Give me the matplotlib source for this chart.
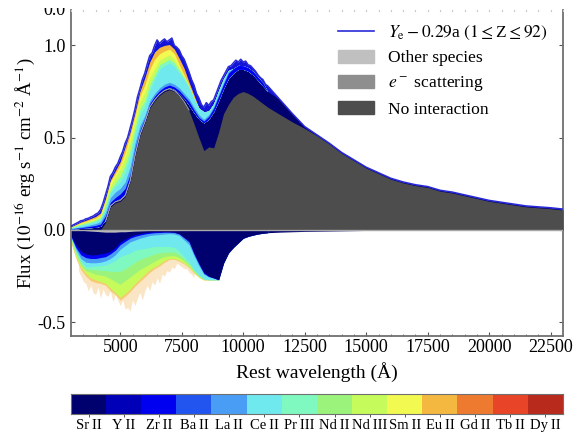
import numpy as np
import matplotlib
matplotlib.use('Agg')
import matplotlib.pyplot as plt
from matplotlib.colors import ListedColormap
from matplotlib.patches import Patch, Rectangle
from matplotlib.lines import Line2D

plt.rcParams['font.family'] = ['Liberation Serif', 'DejaVu Serif']
plt.rcParams['mathtext.fontset'] = 'stix'
plt.rcParams['axes.unicode_minus'] = False

species = ['Sr\u2009II', 'Y\u2009II', 'Zr\u2009II', 'Ba\u2009II', 'La\u2009II', 'Ce\u2009II', 'Pr\u2009III',
           'Nd\u2009II', 'Nd\u2009III', 'Sm\u2009II', 'Eu\u2009II', 'Gd\u2009II', 'Tb\u2009II', 'Dy\u2009II']
colors = ['#00006e', '#0000b8', '#0000f0', '#2255f0', '#4a9df5', '#6fe8ee', '#80f9c0',
          '#9cf37c', '#c6fb5c', '#f2f950', '#f4b840', '#ee7a30', '#e84428', '#b82a1c']

# wavelength grid for the blue/IR bump, step 200 A
wave = [3000, 3200, 3400, 3600, 3800, 4000, 4200, 4400, 4600, 4800, 5000, 5200, 5400, 5600,
        5800, 6000, 6200, 6400, 6600, 6800, 7000, 7200, 7400, 7600, 7800, 8000, 8200, 8400,
        8600, 8800, 9000, 9200, 9400, 9600, 9800, 10000, 10200, 10400, 10600, 10800, 11000]
wave_tail = [11500, 12000, 12500, 13000, 13500, 14000, 14500, 15000, 15500, 16000, 16500, 17000,
             17500, 18000, 18500, 19000, 19500, 20000, 20500, 21000, 21500, 22000, 22500, 23000]

# emission side, upper edge of each stacked layer
no_interaction = [0, 0, 0, 0, 0, 0, 0, .04, .125, .147, .155, .18, .26, .40, .51, .58, .66, .70, .73, .75,
                  .76, .75, .725, .69, .645, .575, .50, .43, .45, .445, .53, .63, .68, .72, .74, .75,
                  .74, .725, .705, .685, .665]
top_sr = [.004, .006, .008, .01, .012, .014, .02, .055, .135, .158, .17, .195, .275, .415, .525, .592, .672, .712,
          .742, .762, .772, .762, .74, .712, .675, .635, .60, .58, .60, .64, .70, .765, .82, .85, .87, .87,
          .86, .84, .81, .78, .75]
top_zr = [.006, .009, .012, .016, .02, .024, .032, .075, .15, .175, .195, .225, .30, .44, .54, .605, .685, .725,
          .755, .775, .785, .775, .755, .725, .695, .65, .61, .59, .615, .66, .725, .79, .85, .875, .892, .89,
          .88, .86, .828, .798, .75]
top_la = [.008, .012, .017, .022, .028, .034, .045, .095, .175, .205, .225, .26, .34, .47, .565, .62, .70, .74,
          .77, .79, .80, .79, .77, .74, .71, .665, .625, .60, .625, .67, .735, .80, .86, .875, .892, .89,
          .88, .86, .828, .798, .75]
top_ce = [.011, .018, .025, .03, .037, .045, .058, .115, .20, .235, .26, .31, .395, .52, .62, .67, .755, .815,
          .87, .89, .905, .885, .85, .815, .77, .71, .66, .64, .645, .685, .755, .82, .865, .875, .892, .89,
          .88, .86, .828, .798, .75]
top_pr = [.013, .021, .03, .036, .043, .052, .066, .13, .215, .255, .29, .35, .43, .55, .655, .70, .785, .84,
          .895, .91, .925, .905, .865, .825, .775, .712, .66, .64, .645, .685, .755, .82, .865, .875, .892, .89,
          .88, .86, .828, .798, .75]
top_nd = [.015, .024, .034, .042, .05, .058, .075, .15, .24, .285, .33, .395, .48, .59, .695, .745, .825, .875,
          .92, .935, .95, .925, .875, .83, .778, .714, .66, .64, .645, .685, .755, .82, .865, .875, .892, .89,
          .88, .86, .828, .798, .75]
top_sm = [.016, .027, .038, .046, .055, .064, .082, .16, .26, .305, .35, .42, .51, .615, .725, .785, .87, .925,
          .955, .97, .98, .955, .895, .84, .782, .717, .66, .64, .645, .685, .755, .82, .865, .875, .892, .89,
          .88, .86, .828, .798, .75]
top_eu = [.017, .03, .043, .052, .062, .073, .092, .17, .27, .32, .37, .45, .53, .635, .75, .825, .91, .965,
          .99, 1.0, 1.005, .98, .93, .875, .80, .73, .66, .64, .645, .685, .755, .82, .865, .875, .892, .89,
          .88, .86, .828, .798, .75]
# model spectrum drawn on a finer grid, step 100 A
wave_fine = np.arange(3000, 11100, 100)
model = [.02, .028, .035, .042, .05, .052, .06, .063, .07, .075, .085, .092, .11, .145, .19, .235, .29, .31, .34, .36,
         .395, .425, .47, .50, .55, .60, .655, .72, .765, .815, .85, .90, .945, .96, 1.0, 1.03, 1.01, 1.025, 1.035, 1.02,
         1.03, 1.04, 1.0, .99, .975, .945, .925, .89, .855, .815, .785, .74, .715, .68, .665, .69, .675, .695, .705, .74,
         .775, .81, .835, .86, .885, .89, .905, .92, .91, .925, .91, .915, .895, .89, .875, .86, .84, .825, .815, .79, .78]
no_interaction_tail = [.625, .585, .55, .51, .465, .415, .375, .335, .305, .275, .255, .24, .23, .21, .2, .185,
                       .17, .155, .145, .135, .125, .12, .115, .108]
model_tail = [.705, .63, .56, .515, .47, .42, .38, .34, .31, .28, .26, .245, .235, .215, .205, .19, .175, .16,
              .15, .14, .13, .125, .12, .113]

# absorption side, lower edge of each stacked layer
neg_sr = [-.03, -.08, -.115, -.13, -.135, -.135, -.13, -.125, -.115, -.095, -.065, -.05, -.035, -.025, -.02,
          -.015, -.012, -.01, -.01, -.01, -.01, -.012, -.02, -.04, -.06, -.125, -.18, -.23, -.25, -.26, -.27,
          -.18, -.125, -.095, -.07, -.045, -.035, -.028, -.022, -.018, -.015]
neg_zr = [-.035, -.095, -.135, -.15, -.155, -.155, -.15, -.145, -.13, -.11, -.08, -.062, -.045, -.035, -.028,
          -.022, -.018, -.015, -.014, -.012, -.012, -.014, -.022, -.043, -.065, -.13, -.185, -.235, -.252, -.26, -.27,
          -.18, -.125, -.095, -.07, -.045, -.035, -.028, -.022, -.018, -.015]
neg_la = [-.038, -.105, -.155, -.175, -.178, -.178, -.175, -.168, -.155, -.135, -.105, -.085, -.065, -.055, -.045,
          -.038, -.03, -.027, -.025, -.022, -.02, -.022, -.03, -.055, -.08, -.14, -.195, -.24, -.255, -.262, -.27,
          -.18, -.125, -.095, -.07, -.045, -.035, -.028, -.022, -.018, -.015]
neg_ce = [-.04, -.115, -.17, -.2, -.2, -.195, -.195, -.19, -.18, -.165, -.145, -.135, -.125, -.11, -.105,
          -.1, -.095, -.09, -.09, -.09, -.09, -.095, -.115, -.145, -.175, -.215, -.245, -.265, -.27, -.27, -.27,
          -.18, -.125, -.095, -.07, -.045, -.035, -.028, -.022, -.018, -.015]
neg_pr = [-.045, -.122, -.18, -.21, -.215, -.215, -.22, -.22, -.225, -.225, -.225, -.21, -.195, -.175, -.16,
          -.15, -.14, -.13, -.125, -.12, -.12, -.12, -.135, -.158, -.185, -.22, -.248, -.267, -.27, -.27, -.27,
          -.18, -.125, -.095, -.07, -.045, -.035, -.028, -.022, -.018, -.015]
neg_nd = [-.05, -.13, -.19, -.22, -.23, -.24, -.245, -.25, -.265, -.28, -.295, -.275, -.255, -.235, -.215,
          -.2, -.185, -.17, -.155, -.145, -.14, -.14, -.15, -.168, -.192, -.225, -.25, -.268, -.27, -.27, -.27,
          -.18, -.125, -.095, -.07, -.045, -.035, -.028, -.022, -.018, -.015]
neg_sm = [-.06, -.145, -.2, -.235, -.26, -.27, -.28, -.29, -.315, -.34, -.365, -.345, -.32, -.29, -.265,
          -.24, -.215, -.2, -.185, -.165, -.155, -.155, -.165, -.18, -.2, -.23, -.255, -.27, -.27, -.27, -.27,
          -.18, -.125, -.095, -.07, -.045, -.035, -.028, -.022, -.018, -.015]
neg_eu = [-.07, -.155, -.215, -.25, -.275, -.285, -.29, -.30, -.33, -.35, -.38, -.36, -.335, -.305, -.28,
          -.255, -.23, -.21, -.195, -.175, -.16, -.16, -.17, -.185, -.205, -.235, -.258, -.272, -.272, -.272, -.27,
          -.18, -.125, -.095, -.07, -.045, -.035, -.028, -.022, -.018, -.015]
neg_other = [0, 0, 0, -.004, -.006, -.008, -.01, -.012, -.012, -.012, -.01, -.01, -.008, -.006, -.005,
             -.004, -.003, -.003, -.002, -.002, -.002, -.002, -.002, -.002, -.002, -.002, -.002, -.002, -.002,
             -.002, -.002, -.002, -.002, -.002, -.002, -.002, -.002, -.002, -.002, -.002, -.002]
neg_tail = [-.012, -.01, -.008, -.007, -.006, -.005, -.004, -.003, -.003, -.002, -.002, -.002,
            -.002, -.001, -.001, -.001, -.001, -.001, -.001, -.001, -.001, -.001, -.001, -.001]

fringe_wave = np.arange(3300, 8100, 100)
fringe = [-.22, -.25, -.28, -.29, -.33, -.30, -.34, -.35, -.31, -.37, -.32, -.35, -.36, -.33, -.39, -.35, -.38,
          -.41, -.38, -.43, -.42, -.44, -.38, -.41, -.37, -.34, -.38, -.33, -.30, -.33, -.28, -.30, -.26, -.29,
          -.24, -.25, -.22, -.23, -.20, -.21, -.18, -.19, -.20, -.21, -.21, -.23, -.24, -.26]

w = np.array(wave, dtype=float)
w_all = np.concatenate([w, wave_tail])
grey_all = np.concatenate([no_interaction, no_interaction_tail])

fig = plt.figure(figsize=(5.77, 4.34), dpi=100)
ax = fig.add_axes([71/577, 1-336/434, 492/577, 326/434])

# emission
ax.fill_between(w_all, 0, grey_all, color='#4d4d4d', lw=0, zorder=3)
ax.plot(w[7:25], np.array(no_interaction[7:25]) + .005, color='#a8a8a8', lw=.7, zorder=3.5)
wave_model = np.concatenate([wave_fine, wave_tail])
model_all = np.concatenate([model, model_tail])
ax.fill_between(wave_model, 0, model_all, color='#1414d8', lw=0, zorder=1)
ax.fill_between(w_all, 0, np.concatenate([top_sr, model_tail]), color=colors[0], lw=0, zorder=1.5)
layers = [(top_eu, '#f4b840'), (top_sm, colors[9]), (top_nd, colors[8]), (top_pr, colors[6]), (top_ce, colors[5]),
          (top_la, colors[4]), (top_zr, colors[2])]
for top, c in layers:
    ax.fill_between(w, top_sr, top, color=c, lw=0, zorder=2)
ax.plot(wave_model, model_all, color='#2a2ad8', lw=1.1, zorder=4)

# absorption
ax.fill_between(fringe_wave, fringe, -.1, color='#f4c070', alpha=.4, lw=0, zorder=1)
neg_layers = [(neg_eu, '#f6cc70'), (neg_sm, colors[8]), (neg_nd, colors[7]), (neg_pr, colors[6]), (neg_ce, colors[5]),
              (neg_la, colors[4]), (neg_zr, colors[2]), (neg_sr, colors[0])]
for edge, c in neg_layers:
    ax.fill_between(w, 0, edge, color=c, lw=0, zorder=2)
ax.fill_between(wave[-1:] + wave_tail, 0, neg_sr[-1:] + neg_tail, color=colors[0], lw=0, zorder=2)
ax.fill_between(w, 0, neg_other, color='#bdbdbd', lw=0, zorder=2.5)
ax.axhline(0, color='#a8a8a8', lw=1.0, zorder=3.5)

ax.set_xlim(3000, 23000)
ax.set_ylim(-.575, 1.192)
ax.set_xticks(np.arange(5000, 22501, 2500))
ax.set_xticks(np.arange(3000, 23001, 500), minor=True)
ax.set_yticks([-.5, 0, .5, 1.0])
ax.set_yticklabels(['-0.5', '0.0', '0.5', '1.0'])
ax.tick_params(axis='both', which='major', direction='in', length=3, width=.8, color='#555555',
               labelsize=13, right=True, pad=2)
ax.tick_params(axis='y', which='major', pad=4)
ax.tick_params(axis='x', which='minor', direction='in', length=1.5, width=.6, color='#555555')
ax.spines['top'].set_visible(False)
for s in ['left', 'right', 'bottom']:
    ax.spines[s].set_color('#707070')
    ax.spines[s].set_linewidth(1.3)
for x in np.arange(3000, 23001, 500):
    ax.plot([x, x], [1.187, 1.192], color='#c8c8c8', lw=.8, clip_on=False, zorder=5)

ax.set_xlabel('Rest wavelength (Å)', fontsize=14, labelpad=4.5)
ax.set_ylabel(r'Flux ($10^{-16}$ erg s$^{-1}$ cm$^{-2}$ Å$^{-1}$)', fontsize=13.5, labelpad=0)

# tick label cut by the top of the picture
fig.text(66/577, 1-15/434, '0.0', fontsize=13, ha='right', va='baseline', zorder=3)
fig.add_artist(Rectangle((0, 1-8/434), 66/577, 8/434, transform=fig.transFigure, color='white', lw=0, zorder=10))

handles = [Line2D([], [], color='#2a2ad8', lw=1.2), Patch(color='#c0c0c0'), Patch(color='#8e8e8e'), Patch(color='#4d4d4d')]
labels = [r'$Y_{\rm e}-0.29$a $(1\leq$Z$\leq 92)$', 'Other species', r'$e^-$ scattering', 'No interaction']
ax.legend(handles, labels, loc='upper left', bbox_to_anchor=(.535, .968), frameon=False, fontsize=12.6,
          handlelength=2.05, handleheight=.75, handletextpad=.85, labelspacing=.45, borderpad=.2, borderaxespad=0)

# species colour bar
cax = fig.add_axes([71/577, 1-414/434, 492/577, 20/434])
cax.imshow(np.arange(len(species))[None, :], cmap=ListedColormap(colors), aspect='auto',
           extent=[0, len(species), 0, 1])
cax.set_yticks([])
cax.set_xticks(np.arange(len(species)) + .5)
cax.set_xticklabels(species, fontsize=10.5)
cax.tick_params(axis='x', length=2, width=.7, color='#555555', pad=1.5)
for s in cax.spines.values():
    s.set_color('#707070')
    s.set_linewidth(.8)

fig.savefig('out.png', dpi=100)
